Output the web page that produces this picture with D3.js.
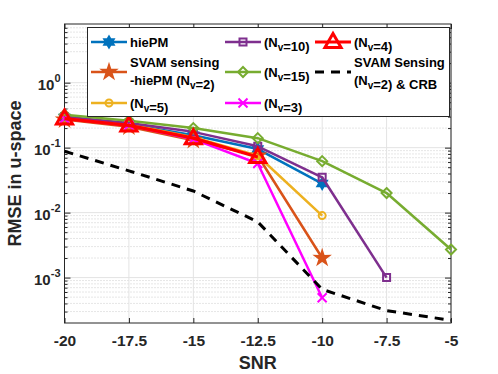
<!DOCTYPE html>
<html>
<head>
<meta charset="utf-8">
<script src="https://cdn.jsdelivr.net/npm/d3@7"></script>
<style>
  body { margin: 0; background: #fff; }
  svg { display: block; }
</style>
</head>
<body>
<div id="chart"></div>
<script>
// values
var snr = [-20, -17.5, -15, -12.5, -10, -7.5, -5];
var xTickLabels = ["-20", "-17.5", "-15", "-12.5", "-10", "-7.5", "-5"];
var yTickValues = [1e-3, 1e-2, 1e-1, 1e0];
var yTickExp = ["-3", "-2", "-1", "0"];

var hiePM = [0.29, 0.23, 0.155, 0.095, 0.028];
var svamHiePM = [0.27, 0.21, 0.13, 0.075, 0.002];
var nv5 = [0.29, 0.23, 0.145, 0.075, 0.009];
var nv10 = [0.30, 0.24, 0.175, 0.105, 0.035, 0.001];
var nv15 = [0.32, 0.26, 0.20, 0.14, 0.062, 0.02, 0.0027];
var nv3 = [0.28, 0.22, 0.135, 0.057, 0.00049];
var nv4 = [0.28, 0.22, 0.14, 0.072];
var crb = [0.088, 0.044, 0.0215, 0.0072, 0.00066, 0.00031, 0.00022];

var W = 498, H = 374;
var margin = { top: 24, right: 47, bottom: 51, left: 64.5 };
var innerW = W - margin.left - margin.right;
var innerH = H - margin.top - margin.bottom;
var font = "'Liberation Sans', Arial, Helvetica, sans-serif";

var svg = d3.select('#chart').append('svg')
  .attr('width', W).attr('height', H)
  .style('font-family', font);

var x = d3.scaleLinear().domain([-20, -5]).range([0, innerW]);
var y = d3.scaleLog().domain([2e-4, 8]).range([innerH, 0]);

var g = svg.append('g').attr('transform', `translate(${margin.left},${margin.top})`);

// minor grid (dotted)
var minors = [];
for (var e = -4; e <= 0; e++) {
  for (var m = 2; m <= 9; m++) {
    var v = m * Math.pow(10, e);
    if (v > 2e-4 && v < 8) minors.push(v);
  }
}
g.append('g').selectAll('line').data(minors).enter().append('line')
  .attr('x1', 0).attr('x2', innerW)
  .attr('y1', d => y(d)).attr('y2', d => y(d))
  .attr('stroke', '#c0c0c0').attr('stroke-width', 0.8)
  .attr('stroke-dasharray', '1,2');

// major grid
g.append('g').selectAll('line').data(yTickValues).enter().append('line')
  .attr('x1', 0).attr('x2', innerW)
  .attr('y1', d => y(d)).attr('y2', d => y(d))
  .attr('stroke', '#e3e3e3').attr('stroke-width', 1);
g.append('g').selectAll('line').data(snr).enter().append('line')
  .attr('x1', d => x(d)).attr('x2', d => x(d))
  .attr('y1', 0).attr('y2', innerH)
  .attr('stroke', '#e3e3e3').attr('stroke-width', 1);

// axes
var xAxis = d3.axisBottom(x).tickValues(snr).tickSize(-5).tickPadding(12)
  .tickFormat((d, i) => xTickLabels[i]);
var gx = g.append('g').attr('transform', `translate(0,${innerH})`).call(xAxis);
gx.select('.domain').remove();
gx.selectAll('line').attr('stroke', '#262626');
gx.selectAll('text').attr('fill', '#262626').style('font-size', '15.5px')
  .style('font-weight', 'bold').style('font-family', font);

var gxTop = g.append('g').call(d3.axisTop(x).tickValues(snr).tickSize(-5).tickFormat(''));
gxTop.select('.domain').remove();
gxTop.selectAll('line').attr('stroke', '#262626');

var yAxis = d3.axisLeft(y).tickValues(yTickValues).tickSize(-6).tickFormat('');
var gy = g.append('g').call(yAxis);
gy.select('.domain').remove();
gy.selectAll('line').attr('stroke', '#262626');
g.append('g').call(d3.axisLeft(y).tickValues(minors).tickSize(-3).tickFormat(''))
  .call(s => s.select('.domain').remove())
  .selectAll('line').attr('stroke', '#262626');
g.append('g').attr('transform', `translate(${innerW},0)`)
  .call(d3.axisRight(y).tickValues(yTickValues).tickSize(-6).tickFormat(''))
  .call(s => s.select('.domain').remove())
  .selectAll('line').attr('stroke', '#262626');
g.append('g').attr('transform', `translate(${innerW},0)`)
  .call(d3.axisRight(y).tickValues(minors).tickSize(-3).tickFormat(''))
  .call(s => s.select('.domain').remove())
  .selectAll('line').attr('stroke', '#262626');

// y tick labels 10^n
var yl = g.append('g').selectAll('text').data(yTickValues).enter().append('text')
  .attr('x', -4).attr('y', d => y(d) + 7)
  .attr('text-anchor', 'end')
  .attr('fill', '#262626')
  .style('font-size', '15px').style('font-weight', 'bold');
yl.append('tspan').text('10');
yl.append('tspan').attr('dy', -8).style('font-size', '11px').text((d, i) => yTickExp[i]);

// box
g.append('rect').attr('width', innerW).attr('height', innerH)
  .attr('fill', 'none').attr('stroke', '#262626').attr('stroke-width', 1);

// axis labels
svg.append('text')
  .attr('x', margin.left + x(-12.5)).attr('y', 369)
  .attr('text-anchor', 'middle').attr('fill', '#262626')
  .style('font-size', '18px').style('font-weight', 'bold').text('SNR');
svg.append('text')
  .attr('transform', `translate(21,${margin.top + innerH / 2}) rotate(-90)`)
  .attr('text-anchor', 'middle').attr('fill', '#262626')
  .style('font-size', '18px').style('font-weight', 'bold').text('RMSE in u-space');

// marker shapes
function markerPath(type, r) {
  if (type === 'hexagram') {
    var pts = [];
    for (var i = 0; i < 12; i++) {
      var a = Math.PI / 2 + i * Math.PI / 6;
      var rr = i % 2 === 0 ? r : r * 0.577;
      pts.push([rr * Math.cos(a), -rr * Math.sin(a)]);
    }
    return 'M' + pts.map(p => p.join(',')).join('L') + 'Z';
  }
  if (type === 'pentagram') {
    var pts2 = [];
    for (var j = 0; j < 10; j++) {
      var b = Math.PI / 2 + j * Math.PI / 5;
      var r2 = j % 2 === 0 ? r : r * 0.38;
      pts2.push([r2 * Math.cos(b), -r2 * Math.sin(b)]);
    }
    return 'M' + pts2.map(p => p.join(',')).join('L') + 'Z';
  }
  if (type === 'circle') {
    return `M${r},0A${r},${r} 0 1,1 ${-r},0A${r},${r} 0 1,1 ${r},0Z`;
  }
  if (type === 'square') {
    return `M${-r},${-r}H${r}V${r}H${-r}Z`;
  }
  if (type === 'diamond') {
    return `M0,${-r}L${r},0L0,${r}L${-r},0Z`;
  }
  if (type === 'x') {
    return `M${-r},${-r}L${r},${r}M${-r},${r}L${r},${-r}`;
  }
  if (type === 'triangle') {
    return `M0,${-r}L${r * 0.95},${r * 0.65}L${-r * 0.95},${r * 0.65}Z`;
  }
  return '';
}

var series = [
  { name: 'hiePM', vals: hiePM, color: '#0072BD', marker: 'hexagram', r: 5.5, fill: true, lw: 2.5 },
  { name: 'svam', vals: svamHiePM, color: '#D95319', marker: 'pentagram', r: 7, fill: true, lw: 2.5 },
  { name: 'nv5', vals: nv5, color: '#EDB120', marker: 'circle', r: 3.5, fill: false, lw: 2.5 },
  { name: 'nv10', vals: nv10, color: '#7E2F8E', marker: 'square', r: 3.5, fill: false, lw: 2.5 },
  { name: 'nv15', vals: nv15, color: '#77AC30', marker: 'diamond', r: 5, fill: false, lw: 2.5 },
  { name: 'nv3', vals: nv3, color: '#FF00FF', marker: 'x', r: 4.5, fill: false, lw: 2.5 },
  { name: 'nv4', vals: nv4, color: '#FF0000', marker: 'triangle', r: 8.5, fill: false, lw: 3.2 }
];

var line = d3.line().x(d => x(d[0])).y(d => y(d[1]));

series.forEach(function(s) {
  var pts = s.vals.map((v, i) => [snr[i], v]);
  g.append('path').datum(pts)
    .attr('d', line).attr('fill', 'none')
    .attr('stroke', s.color).attr('stroke-width', s.lw)
    .attr('stroke-linejoin', 'round');
  g.append('g').selectAll('path').data(pts).enter().append('path')
    .attr('transform', d => `translate(${x(d[0])},${y(d[1])})`)
    .attr('d', markerPath(s.marker, s.r))
    .attr('fill', s.fill ? s.color : 'none')
    .attr('stroke', s.color)
    .attr('stroke-width', s.marker === 'triangle' ? 3 : 2);
});

var crbPts = crb.map((v, i) => [snr[i], v]);
g.append('path').datum(crbPts)
  .attr('d', line).attr('fill', 'none')
  .attr('stroke', '#000').attr('stroke-width', 3)
  .attr('stroke-dasharray', '9,7');

// legend
var lg = svg.append('g');
lg.append('rect').attr('x', 87.5).attr('y', 27.5).attr('width', 362).attr('height', 89)
  .attr('fill', '#fff').attr('stroke', '#262626').attr('stroke-width', 1);

function legendText(xp, yp, parts) {
  var t = lg.append('text').attr('x', xp).attr('y', yp)
    .attr('fill', '#000').style('font-size', '13px').style('font-weight', 'bold');
  parts.forEach(function(p) {
    if (p.sub) {
      t.append('tspan').attr('dy', 4).style('font-size', '10px').text(p.sub);
      t.append('tspan').attr('dy', -4).text('');
    } else {
      t.append('tspan').text(p.t);
    }
  });
  return t;
}

function nvParts(n, pre, post) {
  var arr = [];
  arr.push({ t: (pre || '') + '(N' });
  arr.push({ sub: 'v' });
  arr.push({ t: '=' + n + ')' + (post || '') });
  return arr;
}

var legendRows = [
  { s: series[0], lx: 91, ly: 42, lines: [[{ t: 'hiePM' }]] },
  { s: series[1], lx: 91, ly: 72, lines: [[{ t: 'SVAM sensing' }], nvParts(2, '-hiePM ')] },
  { s: series[2], lx: 91, ly: 103, lines: [nvParts(5)] },
  { s: series[3], lx: 225, ly: 42, lines: [nvParts(10)] },
  { s: series[4], lx: 225, ly: 72, lines: [nvParts(15)] },
  { s: series[5], lx: 225, ly: 103, lines: [nvParts(3)] },
  { s: series[6], lx: 315, ly: 42, lines: [nvParts(4)] },
  { s: null, lx: 315, ly: 72, lines: [[{ t: 'SVAM Sensing' }], nvParts(2, '', ' & CRB')] }
];

legendRows.forEach(function(r) {
  var lx2 = r.lx + 36;
  if (r.s) {
    lg.append('line').attr('x1', r.lx).attr('x2', lx2).attr('y1', r.ly).attr('y2', r.ly)
      .attr('stroke', r.s.color).attr('stroke-width', r.s.lw);
    lg.append('path').attr('transform', `translate(${(r.lx + lx2) / 2},${r.ly})`)
      .attr('d', markerPath(r.s.marker, r.s.r))
      .attr('fill', r.s.fill ? r.s.color : 'none')
      .attr('stroke', r.s.color)
      .attr('stroke-width', r.s.marker === 'triangle' ? 3 : 2);
  } else {
    lg.append('line').attr('x1', r.lx).attr('x2', lx2).attr('y1', r.ly).attr('y2', r.ly)
      .attr('stroke', '#000').attr('stroke-width', 3).attr('stroke-dasharray', '9,7');
  }
  var tx = lx2 + 3;
  if (r.lines.length === 1) {
    legendText(tx, r.ly + 5, r.lines[0]);
  } else {
    legendText(tx, r.ly - 5, r.lines[0]);
    legendText(tx, r.ly + 13, r.lines[1]);
  }
});
</script>
</body>
</html>
